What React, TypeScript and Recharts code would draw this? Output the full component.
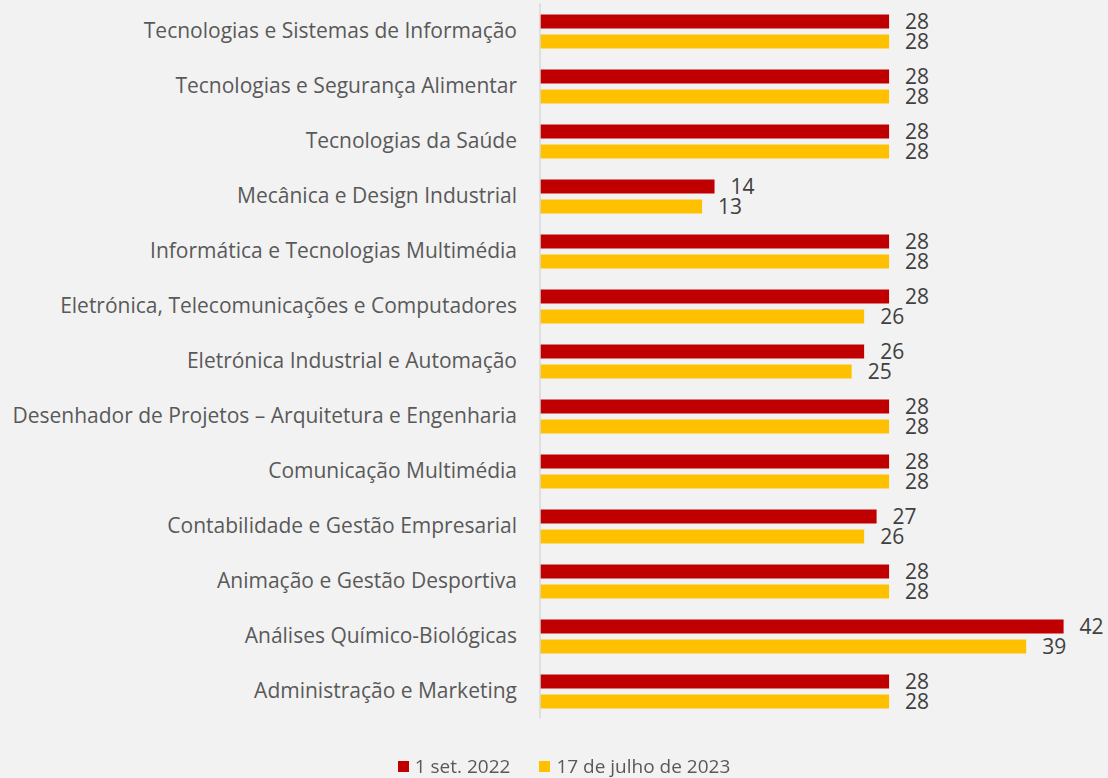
import { BarChart, Bar, XAxis, YAxis, Legend, LabelList } from "recharts";

// cursos, de cima para baixo
const cursos = [
  "Tecnologias e Sistemas de Informação",
  "Tecnologias e Segurança Alimentar",
  "Tecnologias da Saúde",
  "Mecânica e Design Industrial",
  "Informática e Tecnologias Multimédia",
  "Eletrónica, Telecomunicações e Computadores",
  "Eletrónica Industrial e Automação",
  "Desenhador de Projetos – Arquitetura e Engenharia",
  "Comunicação Multimédia",
  "Contabilidade e Gestão Empresarial",
  "Animação e Gestão Desportiva",
  "Análises Químico-Biológicas",
  "Administração e Marketing",
];

const set2022 = [28, 28, 28, 14, 28, 28, 26, 28, 28, 27, 28, 42, 28];
const julho2023 = [28, 28, 28, 13, 28, 26, 25, 28, 28, 26, 28, 39, 28];

const serieNomes = ["1 set. 2022", "17 de julho de 2023"];
const serieCores = ["#C00000", "#FFC000"];

const data = cursos.map((curso, i) => ({
  curso,
  a: set2022[i],
  b: julho2023[i],
}));

const FONT = "'Open Sans', sans-serif";

function Legenda() {
  return (
    <div style={{ display: "flex", justifyContent: "center", alignItems: "center", gap: 29, height: 24, paddingLeft: 27 }}>
      {serieNomes.map((n, i) => (
        <div key={n} style={{ display: "flex", alignItems: "center", height: 24 }}>
          <span style={{ width: 11, height: 11, background: serieCores[i], marginRight: 6, display: "inline-block" }} />
          <span style={{ color: "#595959", fontSize: 19, lineHeight: "24px" }}>{n}</span>
        </div>
      ))}
    </div>
  );
}

export default function App() {
  return (
    <div
      style={{
        position: "fixed",
        top: 0,
        left: 0,
        width: 1108,
        height: 778,
        background: "#F2F2F2",
        fontFamily: FONT,
      }}
    >
      <BarChart
        width={1108}
        height={778}
        data={data}
        layout="vertical"
        margin={{ top: 3.5, right: 7, bottom: 35.5, left: 0 }}
        barSize={14}
        barGap={6}
      >
        <XAxis type="number" domain={[0, 45]} hide />
        <YAxis
          type="category"
          dataKey="curso"
          width={540}
          tickLine={false}
          tickSize={0}
          tickMargin={23}
          axisLine={{ stroke: "#D9D9D9", strokeWidth: 1.5 }}
          tick={{ fill: "#595959", fontSize: 21, fontFamily: FONT }}
          interval={0}
        />
        <Legend verticalAlign="bottom" height={24} content={<Legenda />} wrapperStyle={{ bottom: 0 }} />
        <Bar dataKey="a" name={serieNomes[0]} fill={serieCores[0]} isAnimationActive={false}>
          <LabelList
            dataKey="a"
            position="right"
            offset={16}
            style={{ fill: "#404040", fontSize: 21, fontFamily: FONT }}
          />
        </Bar>
        <Bar dataKey="b" name={serieNomes[1]} fill={serieCores[1]} isAnimationActive={false}>
          <LabelList
            dataKey="b"
            position="right"
            offset={16}
            style={{ fill: "#404040", fontSize: 21, fontFamily: FONT }}
          />
        </Bar>
      </BarChart>
    </div>
  );
}
